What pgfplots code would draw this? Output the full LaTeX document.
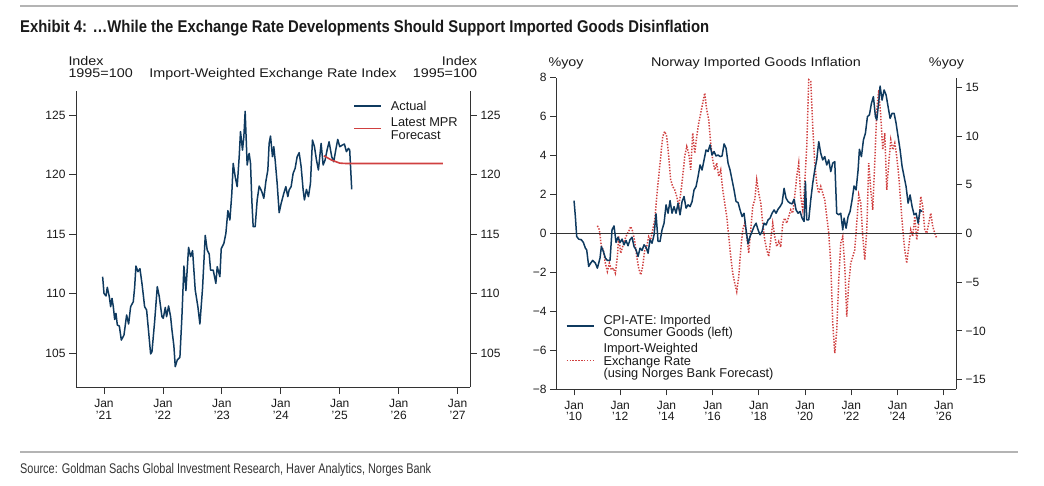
\documentclass[border=0pt]{standalone}
\usepackage{fontspec}
\setmainfont{Liberation Sans}
\newfontfamily\hfont[FakeStretch=1.14]{Liberation Sans}
\usepackage{graphicx}
\usepackage{pgfplots}
\pgfplotsset{compat=1.18}
\definecolor{gsblue}{HTML}{0F3A5F}
\definecolor{gsred}{HTML}{D04040}
\definecolor{axgray}{HTML}{333333}
\definecolor{txt}{HTML}{1A1A1A}
\definecolor{rulegray}{HTML}{B4B4B4}
\pgfplotsset{
  gsaxis/.style={
    scale only axis,
    axis line style={axgray, line width=0.9pt, -},
    tick style={axgray, line width=0.8pt},
    tick align=outside,
    major tick length=7pt,
    ticklabel style={font=\fontsize{12}{11.5}\selectfont, text=txt},
    xticklabel style={align=center, yshift=-2pt},
    clip=false,
  },
  gslegend/.style={
    legend style={draw=none, fill=none, inner sep=0pt,
      font=\fontsize{12.8}{12.5}\selectfont, text=txt,
      cells={anchor=base west},
      nodes={inner sep=0pt, text height=9pt, text depth=3.5pt},
      row sep=0pt,
      /tikz/every odd column/.append style={column sep=9pt}},
    legend image code/.code={\draw[##1] (0pt,4.5pt) -- (27pt,4.5pt);},
  },
  limg/.style={legend image code/.code={\draw[##1, line width=1.7pt] (0pt,#1) -- (27pt,#1);}},
}
\begin{document}
\begin{tikzpicture}
\path[use as bounding box] (0,0) rectangle (1044pt,485pt);
\draw[rulegray, line width=1.2pt] (20pt,479pt) -- (1018pt,479pt);
\draw[rulegray, line width=1.2pt] (20pt,33pt) -- (1018pt,33pt);
\node[anchor=base west, inner sep=0pt, text=txt] at (20pt,452.7pt)
  {\resizebox{689pt}{\height}{\fontsize{17}{20}\selectfont\bfseries Exhibit 4: …While the Exchange Rate Developments Should Support Imported Goods Disinflation}};
\node[anchor=base west, inner sep=0pt, text=axgray] at (20pt,11.7pt)
  {\resizebox{411pt}{\height}{\fontsize{14}{16}\selectfont Source: Goldman Sachs Global Investment Research, Haver Analytics, Norges Bank}};
% chart headings
\begin{scope}[every node/.style={inner sep=0pt, text=txt, font=\hfont\fontsize{12.6}{12}\selectfont}]
\node[anchor=base west] at (68.3pt,419.3pt) {Index};
\node[anchor=base west] at (68.3pt,407.7pt) {1995=100};
\node[anchor=base] at (273pt,407.7pt) {Import-Weighted Exchange Rate Index};
\node[anchor=base east] at (477.3pt,419.3pt) {Index};
\node[anchor=base east] at (477.3pt,407.7pt) {1995=100};
\node[anchor=base west] at (548.3pt,418.3pt) {\%yoy};
\node[anchor=base] at (756pt,418.3pt) {Norway Imported Goods Inflation};
\node[anchor=base east] at (964.3pt,418.3pt) {\%yoy};
\end{scope}

% ---------- Left chart: right y axis ----------
\begin{axis}[gsaxis, at={(76pt,98pt)}, anchor=south west, width=394pt, height=296pt,
  xmin=2020.525, xmax=2027.21, ymin=102.14, ymax=127.05,
  axis y line*=right, hide x axis,
  ytick={105,110,115,120,125}, yticklabels={105,110,115,120,125}]
\end{axis}
% ---------- Left chart: main ----------
\begin{axis}[gsaxis, gslegend, at={(76pt,98pt)}, anchor=south west, width=394pt, height=296pt,
  xmin=2020.525, xmax=2027.21, ymin=102.14, ymax=127.05,
  axis x line*=bottom, axis y line*=left,
  major tick length=7pt,
  xtick={2021,2022,2023,2024,2025,2026,2027},
  xticklabels={{Jan\\’21},{Jan\\’22},{Jan\\’23},{Jan\\’24},{Jan\\’25},{Jan\\’26},{Jan\\’27}},
  ytick={105,110,115,120,125}, yticklabels={105,110,115,120,125},
  legend style={at={(0.703,0.9655)}, anchor=north west}]
\addplot[gsblue, line width=1.5pt, line join=round] coordinates {
(2020.977,111.42) (2021.000,110.02) (2021.034,109.80) (2021.056,110.53) (2021.090,109.74)
(2021.113,108.90) (2021.136,109.60) (2021.158,108.90) (2021.181,107.83) (2021.203,108.34)
(2021.226,107.36) (2021.260,107.27) (2021.294,106.09) (2021.339,106.51) (2021.384,108.20)
(2021.418,107.44) (2021.452,108.90) (2021.497,109.32) (2021.520,110.53) (2021.542,112.32)
(2021.576,111.84) (2021.610,112.10) (2021.644,110.86) (2021.667,109.88) (2021.689,108.90)
(2021.723,108.62) (2021.757,106.80) (2021.791,104.92) (2021.814,105.11) (2021.859,107.64)
(2021.904,110.58) (2021.938,109.74) (2021.983,108.06) (2022.006,107.92) (2022.040,108.84)
(2022.062,108.06) (2022.096,108.96) (2022.130,108.06) (2022.153,106.94) (2022.186,105.59)
(2022.209,103.85) (2022.243,104.41) (2022.288,104.64) (2022.322,108.06) (2022.356,112.32)
(2022.390,110.25) (2022.435,113.89) (2022.469,113.11) (2022.503,113.61) (2022.548,110.30)
(2022.593,108.90) (2022.627,107.44) (2022.672,110.44) (2022.718,114.90) (2022.751,113.67)
(2022.785,113.33) (2022.808,111.98) (2022.853,111.98) (2022.898,110.86) (2022.921,112.27)
(2022.966,111.42) (2022.989,113.78) (2023.034,114.23) (2023.068,115.07) (2023.102,116.98)
(2023.136,116.19) (2023.169,118.44) (2023.192,120.96) (2023.226,119.84) (2023.260,119.00)
(2023.294,121.52) (2023.316,123.63) (2023.350,122.08) (2023.373,123.20) (2023.395,125.34)
(2023.429,120.82) (2023.463,121.80) (2023.486,120.96) (2023.508,117.88) (2023.531,115.63)
(2023.565,115.63) (2023.599,117.88) (2023.633,119.05) (2023.678,118.58) (2023.712,118.02)
(2023.746,119.42) (2023.780,120.40) (2023.802,122.64) (2023.825,123.26) (2023.859,121.52)
(2023.881,122.36) (2023.904,121.24) (2023.938,119.28) (2023.972,116.81) (2024.006,117.59)
(2024.051,118.44) (2024.085,119.00) (2024.119,118.16) (2024.141,118.72) (2024.175,119.00)
(2024.209,120.12) (2024.243,120.54) (2024.277,121.52) (2024.311,121.86) (2024.345,120.68)
(2024.379,118.72) (2024.401,117.88) (2024.435,118.77) (2024.469,118.16) (2024.503,119.28)
(2024.537,122.92) (2024.571,122.36) (2024.605,121.24) (2024.638,120.40) (2024.684,122.64)
(2024.718,120.82) (2024.751,121.24) (2024.785,122.08) (2024.819,122.78) (2024.864,121.52)
(2024.898,121.10) (2024.932,122.08) (2024.966,122.98) (2025.000,122.36) (2025.045,122.50)
(2025.079,122.59) (2025.113,121.94) (2025.147,122.22) (2025.169,122.08) (2025.203,118.77)
};
\addlegendentry[text depth=7.3pt]{Actual}
\addplot[gsred, line width=1.6pt, line join=round, limg=-1.7pt] coordinates {
(2024.73,121.60) (2024.86,121.24) (2025.00,120.98) (2025.10,120.95) (2026.75,120.95)
};
\addlegendentry{Latest MPR}
\addlegendimage{empty legend}
\addlegendentry{Forecast}
\end{axis}

% ---------- Right chart: right y axis with exchange rate ----------
\begin{axis}[gsaxis, at={(556pt,95.7pt)}, anchor=south west, width=400pt, height=311.6pt,
  xmin=2009.22, xmax=2026.53, ymin=-16, ymax=16, clip=true,
  axis y line*=right, hide x axis, major tick length=6pt,
  ytick={-15,-10,-5,0,5,10,15}, yticklabels={−15,−10,−5,0,5,10,15}]
\addplot[gsred, line width=1.5pt, dash pattern=on 1.4pt off 1.5pt] coordinates {
(2011.010,0.79) (2011.097,0.38) (2011.183,-1.34) (2011.270,-1.68) (2011.356,-3.05)
(2011.443,-3.90) (2011.529,-3.05) (2011.616,-3.73) (2011.702,-3.56) (2011.789,-4.08)
(2011.876,-2.36) (2011.933,-0.31) (2012.020,-2.02) (2012.106,-1.34) (2012.193,-0.65)
(2012.280,-0.14) (2012.366,0.21) (2012.453,0.72) (2012.539,0.21) (2012.626,-0.82)
(2012.712,-2.36) (2012.799,-3.56) (2012.886,-4.25) (2012.972,-3.39) (2013.059,-1.68)
(2013.145,-1.34) (2013.232,-0.31) (2013.318,-0.65) (2013.405,0.38) (2013.492,1.40)
(2013.578,3.80) (2013.665,5.86) (2013.751,7.91) (2013.838,9.97) (2013.924,10.48)
(2014.011,9.97) (2014.098,7.91) (2014.184,5.51) (2014.271,4.83) (2014.357,4.49)
(2014.444,3.80) (2014.530,2.77) (2014.617,4.14) (2014.704,5.86) (2014.790,7.91)
(2014.877,8.94) (2014.963,8.25) (2015.050,6.54) (2015.136,10.31) (2015.223,8.25)
(2015.310,9.97) (2015.396,11.34) (2015.483,12.36) (2015.569,13.39) (2015.656,14.42)
(2015.742,12.71) (2015.829,11.68) (2015.915,9.28) (2016.002,7.57) (2016.089,6.54)
(2016.175,7.23) (2016.262,5.86) (2016.348,6.54) (2016.435,4.49) (2016.521,3.12)
(2016.608,1.75) (2016.695,-0.31) (2016.781,-2.36) (2016.868,-4.08) (2016.954,-5.10)
(2017.041,-5.96) (2017.127,-4.42) (2017.214,-1.68) (2017.300,0.38) (2017.387,1.06)
(2017.474,-0.31) (2017.560,-2.02) (2017.647,0.38) (2017.733,2.77) (2017.820,3.46)
(2017.906,5.51) (2017.993,4.14) (2018.080,3.12) (2018.166,1.06) (2018.253,-0.65)
(2018.339,-1.68) (2018.426,-2.36) (2018.512,-0.65) (2018.599,1.06) (2018.686,-0.31)
(2018.772,-1.34) (2018.859,-0.82) (2018.945,-1.40) (2019.032,1.06) (2019.118,1.58)
(2019.205,1.06) (2019.292,1.75) (2019.378,2.43) (2019.465,2.09) (2019.551,3.80)
(2019.638,5.86) (2019.724,7.23) (2019.811,3.80) (2019.898,2.43) (2019.984,5.17)
(2020.071,8.94) (2020.157,15.79) (2020.244,15.62) (2020.330,10.99) (2020.417,7.23)
(2020.503,5.17) (2020.590,4.14) (2020.677,4.83) (2020.763,4.14) (2020.850,3.46)
(2020.936,1.75) (2021.023,0.03) (2021.109,-3.05) (2021.196,-9.21) (2021.283,-12.29)
(2021.369,-9.90) (2021.456,-4.76) (2021.542,-0.99) (2021.629,-0.31) (2021.716,-3.39)
(2021.802,-8.53) (2021.889,-5.10) (2021.975,-3.05) (2022.062,-2.36) (2022.148,-1.68)
(2022.235,1.06) (2022.321,3.97) (2022.408,3.12) (2022.495,-0.31) (2022.581,-2.71)
(2022.668,0.38) (2022.754,7.23) (2022.841,4.49) (2022.927,2.43) (2023.014,7.23)
(2023.101,12.71) (2023.187,14.76) (2023.274,12.02) (2023.360,8.60) (2023.447,10.31)
(2023.533,4.49) (2023.620,7.23) (2023.707,9.62) (2023.793,8.60) (2023.880,9.28)
(2023.966,7.91) (2024.053,5.86) (2024.139,3.12) (2024.226,0.38) (2024.313,-1.68)
(2024.399,-3.05) (2024.486,-1.34) (2024.572,0.38) (2024.659,-0.31) (2024.745,1.75)
(2024.832,-0.65) (2024.918,1.06) (2025.005,3.80) (2025.091,2.77) (2025.178,0.38)
(2025.264,0.03) (2025.351,1.06) (2025.437,2.09) (2025.524,0.72) (2025.611,0.03)
(2025.697,-0.48)
};
\end{axis}

% ---------- Right chart: main (left axis) ----------
\begin{axis}[gsaxis, gslegend, at={(556pt,95.7pt)}, anchor=south west, width=400pt, height=311.6pt,
  xmin=2009.22, xmax=2026.53, ymin=-8, ymax=8,
  axis x line*=bottom, axis y line*=left, major tick length=6pt,
  xtick={2010,2012,2014,2016,2018,2020,2022,2024,2026},
  xticklabels={{Jan\\’10},{Jan\\’12},{Jan\\’14},{Jan\\’16},{Jan\\’18},{Jan\\’20},{Jan\\’22},{Jan\\’24},{Jan\\’26}},
  ytick={-8,-6,-4,-2,0,2,4,6,8}, yticklabels={−8,−6,−4,−2,0,2,4,6,8},
  legend style={at={(0.024,0.239)}, anchor=north west}]
\addplot[axgray, line width=0.7pt, forget plot] coordinates {(2009.22,0) (2026.53,0)};
\addplot[gsblue, line width=1.5pt, line join=round, limg=-2.1pt] coordinates {
(2010.000,1.69) (2010.058,0.87) (2010.115,-0.15) (2010.202,-0.29) (2010.317,-0.32)
(2010.404,-0.46) (2010.491,-0.75) (2010.548,-0.84) (2010.635,-1.69) (2010.721,-1.52)
(2010.808,-1.38) (2010.923,-1.52) (2011.010,-1.78) (2011.125,-1.26) (2011.183,-0.67)
(2011.270,-0.92) (2011.356,-1.26) (2011.443,-1.38) (2011.558,-1.38) (2011.645,0.19)
(2011.731,0.39) (2011.818,-0.46) (2011.904,-0.19) (2011.991,-0.46) (2012.078,-0.29)
(2012.164,-0.58) (2012.251,-0.36) (2012.337,-0.63) (2012.424,-0.32) (2012.510,-0.19)
(2012.597,-0.67) (2012.684,-0.84) (2012.770,-1.18) (2012.857,-0.75) (2012.943,-0.87)
(2013.030,-0.58) (2013.116,-0.70) (2013.203,-1.01) (2013.290,-0.32) (2013.376,-0.50)
(2013.463,-0.07) (2013.549,1.01) (2013.636,-0.41) (2013.722,-0.41) (2013.809,0.19)
(2013.896,0.53) (2013.982,1.47) (2014.069,1.04) (2014.155,1.69) (2014.242,1.04)
(2014.328,1.38) (2014.415,1.04) (2014.502,1.56) (2014.588,0.96) (2014.675,1.64)
(2014.761,1.90) (2014.848,1.30) (2014.934,1.47) (2015.021,1.38) (2015.108,1.64)
(2015.194,2.24) (2015.281,2.41) (2015.367,2.92) (2015.454,3.52) (2015.540,3.26)
(2015.627,3.78) (2015.714,4.29) (2015.800,4.21) (2015.887,4.55) (2015.973,4.03)
(2016.060,4.21) (2016.146,3.98) (2016.233,4.03) (2016.320,3.95) (2016.406,3.98)
(2016.493,4.60) (2016.579,4.38) (2016.666,3.61) (2016.752,3.26) (2016.839,2.75)
(2016.925,2.24) (2017.012,1.64) (2017.099,1.59) (2017.185,1.21) (2017.272,0.87)
(2017.358,1.04) (2017.445,0.19) (2017.531,-0.53) (2017.618,-0.15) (2017.705,0.10)
(2017.791,0.36) (2017.878,0.53) (2017.964,0.19) (2018.051,-0.07) (2018.137,0.10)
(2018.224,0.53) (2018.311,0.44) (2018.397,0.70) (2018.484,0.79) (2018.570,1.04)
(2018.657,1.21) (2018.743,1.04) (2018.830,1.25) (2018.916,1.38) (2019.003,1.56)
(2019.090,2.32) (2019.176,1.81) (2019.263,1.64) (2019.349,1.56) (2019.436,1.52)
(2019.522,1.76) (2019.609,1.21) (2019.696,1.04) (2019.782,1.13) (2019.869,0.79)
(2019.955,0.62) (2020.013,2.67) (2020.071,0.70) (2020.157,0.70) (2020.244,1.73)
(2020.330,2.58) (2020.417,3.26) (2020.503,3.78) (2020.590,4.72) (2020.677,4.12)
(2020.763,3.78) (2020.850,3.95) (2020.936,3.52) (2021.023,3.78) (2021.109,3.18)
(2021.196,3.61) (2021.283,3.69) (2021.369,1.04) (2021.456,0.96) (2021.542,1.04)
(2021.629,0.19) (2021.687,0.79) (2021.773,0.27) (2021.860,0.87) (2021.946,1.13)
(2022.033,1.73) (2022.119,2.44) (2022.206,2.24) (2022.293,3.26) (2022.350,4.32)
(2022.437,3.95) (2022.523,4.80) (2022.610,5.15) (2022.697,6.00) (2022.783,6.09)
(2022.870,6.68) (2022.956,7.03) (2023.043,6.00) (2023.101,5.83) (2023.187,6.77)
(2023.245,7.57) (2023.331,6.85) (2023.418,7.37) (2023.505,7.11) (2023.591,6.51)
(2023.678,5.91) (2023.764,6.17) (2023.851,6.17) (2023.937,5.66) (2024.024,4.97)
(2024.111,4.29) (2024.197,3.44) (2024.284,2.92) (2024.370,2.41) (2024.457,1.56)
(2024.543,1.98) (2024.630,1.38) (2024.716,0.96) (2024.803,1.04) (2024.890,0.53)
(2024.976,1.21) (2025.063,1.13)
};
\addlegendentry{CPI-ATE: Imported}
\addlegendimage{empty legend}
\addlegendentry[text depth=7pt]{Consumer Goods (left)}
\addlegendimage{empty legend}
\addlegendentry{Import-Weighted}
\addlegendimage{gsred, line width=1.5pt, dash pattern=on 1.4pt off 1.5pt}
\addlegendentry{Exchange Rate}
\addlegendimage{empty legend}
\addlegendentry{(using Norges Bank Forecast)}
\end{axis}
\end{tikzpicture}
\end{document}
